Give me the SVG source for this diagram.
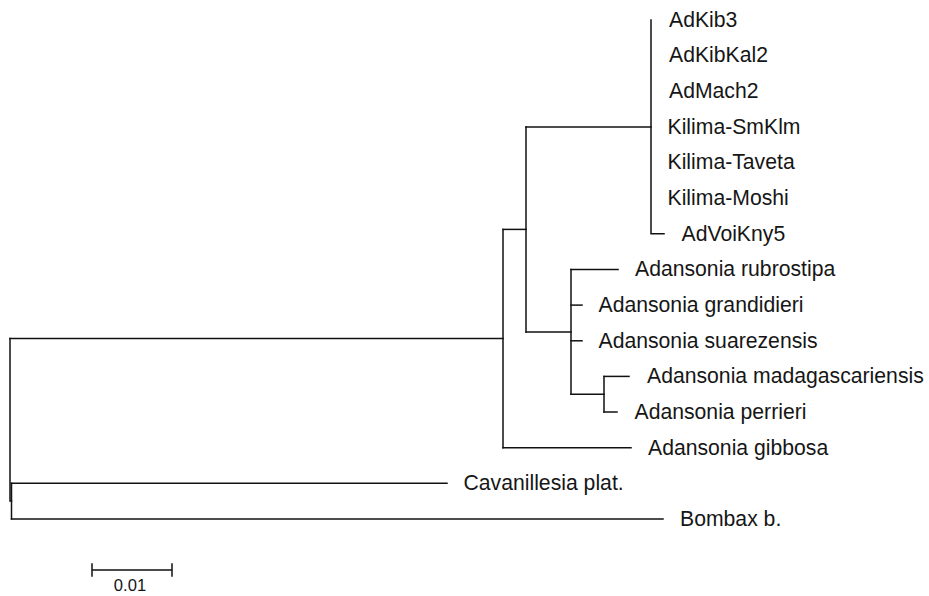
<svg xmlns="http://www.w3.org/2000/svg" width="929" height="596" viewBox="0 0 929 596">
<style>
.c{fill:none;stroke:#111;stroke-width:1.5;stroke-linecap:square}
.t{font-family:"Liberation Sans",Arial,sans-serif;font-size:21.2px;fill:#161616}
.s{font-family:"Liberation Sans",Arial,sans-serif;font-size:16.6px;fill:#161616}
</style>
<rect width="929" height="596" fill="#fff"/>
<g id="connectors">
<path class="c" d="M651,20 V233.8 H664"/>
<path class="c" d="M526,126.9 H651"/>
<path class="c" d="M571,269.5 V394.2"/>
<path class="c" d="M571,269.5 H618"/>
<path class="c" d="M571,305.1 H582"/>
<path class="c" d="M571,340.8 H582"/>
<path class="c" d="M571,394.2 H604"/>
<path class="c" d="M604,376.4 V412"/>
<path class="c" d="M604,376.4 H629"/>
<path class="c" d="M604,412 H617"/>
<path class="c" d="M526,331.9 H571"/>
<path class="c" d="M526,126.9 V331.9"/>
<path class="c" d="M503,229.4 H526"/>
<path class="c" d="M503,229.4 V447.7"/>
<path class="c" d="M503,447.7 H631"/>
<path class="c" d="M10,338.5 H503"/>
<path class="c" d="M10,338.5 V501.1 H11.5"/>
<path class="c" d="M11.5,483.3 V518.9"/>
<path class="c" d="M11.5,483.3 H447"/>
<path class="c" d="M11.5,518.9 H663"/>
</g>
<g id="leaf-AdKib3"><text class="t" x="669" y="26.8">AdKib3</text></g>
<g id="leaf-AdKibKal2"><text class="t" x="669" y="62.4">AdKibKal2</text></g>
<g id="leaf-AdMach2"><text class="t" x="669" y="98.1">AdMach2</text></g>
<g id="leaf-Kilima-SmKlm"><text class="t" x="667.5" y="133.7">Kilima-SmKlm</text></g>
<g id="leaf-Kilima-Taveta"><text class="t" x="667.5" y="169.4">Kilima-Taveta</text></g>
<g id="leaf-Kilima-Moshi"><text class="t" x="667.5" y="205">Kilima-Moshi</text></g>
<g id="leaf-AdVoiKny5"><text class="t" x="681.5" y="240.6">AdVoiKny5</text></g>
<g id="leaf-rubrostipa"><text class="t" x="635" y="276.3">Adansonia rubrostipa</text></g>
<g id="leaf-grandidieri"><text class="t" x="598.5" y="311.9">Adansonia grandidieri</text></g>
<g id="leaf-suarezensis"><text class="t" x="598.5" y="347.6">Adansonia suarezensis</text></g>
<g id="leaf-madagascariensis"><text class="t" x="647" y="383.2">Adansonia madagascariensis</text></g>
<g id="leaf-perrieri"><text class="t" x="634.5" y="418.8">Adansonia perrieri</text></g>
<g id="leaf-gibbosa"><text class="t" x="648" y="454.5">Adansonia gibbosa</text></g>
<g id="leaf-Cavanillesia"><text class="t" x="463.5" y="490.1">Cavanillesia plat.</text></g>
<g id="leaf-Bombax"><text class="t" x="680" y="525.7">Bombax b.</text></g>
<g id="scale-bar">
<path class="c" d="M92,570 H172 M92,564 V576 M172,564 V576"/>
<text class="s" x="130" y="591" text-anchor="middle">0.01</text>
</g>
</svg>
